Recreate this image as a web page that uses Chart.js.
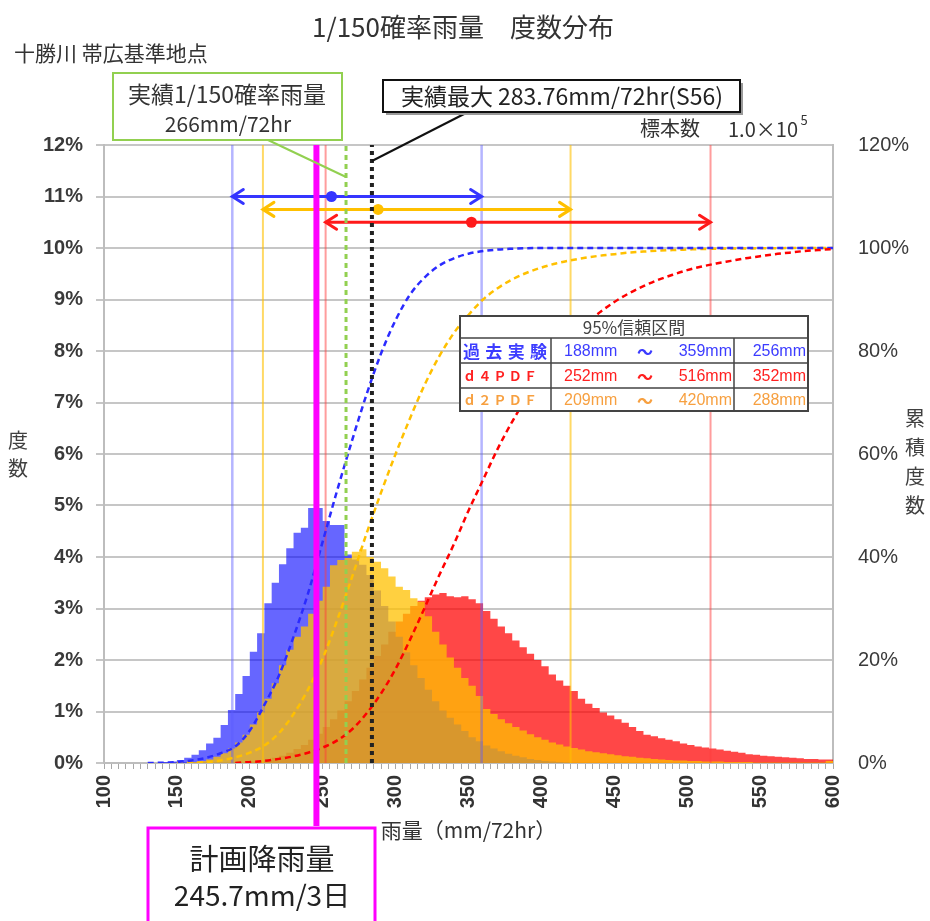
<!DOCTYPE html>
<html>
<head>
<meta charset="utf-8">
<script src="https://cdn.jsdelivr.net/npm/chart.js@4.4.0/dist/chart.umd.min.js"></script>
<style>
  html, body { margin: 0; padding: 0; background: #ffffff; }
  #wrap { width: 930px; height: 921px; }
</style>
</head>
<body>
<div id="wrap"><canvas id="chart" width="930" height="921"></canvas></div>
<script>
// ---- histogram bins (left edge of each 5 mm class, mm/72hr) ----
const binLo = [
  100,105,110,115,120,125,130,135,140,145,
  150,155,160,165,170,175,180,185,190,195,
  200,205,210,215,220,225,230,235,240,245,
  250,255,260,265,270,275,280,285,290,295,
  300,305,310,315,320,325,330,335,340,345,
  350,355,360,365,370,375,380,385,390,395,
  400,405,410,415,420,425,430,435,440,445,
  450,455,460,465,470,475,480,485,490,495,
  500,505,510,515,520,525,530,535,540,545,
  550,555,560,565,570,575,580,585,590,595
];
const binWidth = 5;

// 度数 (%) per class — 過去実験
const freqPast = [
  0,0,0,0,0,0,0,0,0.02,0.03,
  0.06,0.1,0.16,0.25,0.38,0.49,0.74,1.03,1.34,1.69,
  2.16,2.52,3.1,3.5,3.86,4.17,4.47,4.57,4.95,4.95,
  4.7,4.62,4.62,4.05,3.95,3.85,3.65,3.35,3.05,2.75,
  2.45,2.15,1.9,1.65,1.42,1.2,1.02,0.88,0.75,0.62,
  0.5,0.42,0.34,0.28,0.23,0.18,0.14,0.11,0.08,0.06,
  0.04,0.03,0.02,0.01,0,0,0,0,0,0,
  0,0,0,0,0,0,0,0,0,0,
  0,0,0,0,0,0,0,0,0,0,
  0,0,0,0,0,0,0,0,0,0
];
// 度数 (%) per class — d4PDF
const freqD4 = [
  0,0,0,0,0,0,0,0,0,0,
  0,0,0,0,0,0,0,0,0,0,
  0.03,0.05,0.07,0.1,0.14,0.2,0.27,0.35,0.45,0.57,
  0.7,0.85,1.02,1.2,1.4,1.62,1.85,2.08,2.3,2.55,
  2.75,2.9,3.05,3.15,3.22,3.27,3.3,3.24,3.22,3.24,
  3.18,3.1,2.95,2.8,2.65,2.52,2.38,2.25,2.12,2.0,
  1.88,1.72,1.6,1.5,1.4,1.25,1.15,1.07,0.98,0.92,
  0.85,0.78,0.7,0.62,0.55,0.52,0.48,0.45,0.42,0.38,
  0.35,0.32,0.3,0.28,0.26,0.24,0.22,0.2,0.17,0.16,
  0.14,0.13,0.12,0.11,0.1,0.09,0.08,0.08,0.07,0.07
];
// 度数 (%) per class — d2PDF
const freqD2 = [
  0,0,0,0,0,0,0,0,0,0,
  0,0,0.02,0.04,0.07,0.12,0.19,0.28,0.4,0.55,
  0.75,0.98,1.25,1.55,1.9,2.2,2.45,2.65,2.9,3.15,
  3.42,3.84,3.94,3.98,4.1,4.15,4.0,3.91,3.78,3.62,
  3.42,3.36,3.2,3.13,2.85,2.55,2.3,2.05,1.85,1.65,
  1.5,1.3,1.05,0.95,0.85,0.77,0.7,0.63,0.56,0.5,
  0.45,0.4,0.36,0.32,0.29,0.26,0.23,0.21,0.19,0.17,
  0.15,0.13,0.12,0.1,0.09,0.08,0.07,0.06,0.05,0.05,
  0.04,0.04,0.03,0.03,0.03,0.02,0.02,0.02,0.02,0.01,
  0.01,0.01,0.01,0.01,0.01,0.01,0.01,0.01,0.01,0.04
];

// ---- 累積度数 (%) sampled every 10 mm (null = curve not yet started) ----
const cumX = [
  100,110,120,130,140,150,160,170,180,190,
  200,210,220,230,240,250,260,270,280,290,
  300,310,320,330,340,350,360,370,380,390,
  400,410,420,430,440,450,460,470,480,490,
  500,510,520,530,540,550,560,570,580,590,
  600
];
const cumPast = [
  null,null,null,0,0.05,0.2,0.5,1.0,1.9,3.2,
  6.3,11.3,17,24.5,33,43,53,62.5,71.5,79.5,
  86,91,94.3,96.6,98,98.9,99.4,99.7,99.85,99.95,
  100,100,100,100,100,100,100,100,100,100,
  100,100,100,100,100,100,100,100,100,100,
  100
];
const cumD4 = [
  null,null,null,null,null,null,null,null,null,0,
  0.2,0.4,0.8,1.3,2.0,3.0,4.4,6.5,9.6,13.5,
  18.3,24,30.2,36.5,42.5,49,55,61,66.3,71,
  75.2,79,82.3,85.1,87.5,89.5,91.2,92.6,93.8,94.8,
  95.7,96.4,97,97.5,98,98.4,98.8,99.1,99.4,99.6,
  99.8
];
const cumD2 = [
  null,null,null,null,null,0,0.05,0.2,0.5,1.1,
  2.0,3.4,5.8,9.5,14.3,20.3,27.8,36,44.5,52.5,
  60,67,73.5,79,83.5,87,90,92.2,93.9,95.2,
  96.2,97,97.6,98.1,98.5,98.8,99.1,99.3,99.5,99.6,
  99.7,99.8,99.85,99.9,99.9,99.95,99.95,100,100,100,
  100
];

// ---- 95% 信頼区間 and central values (mm) ----
const ciPast = [188, 359];
const ciD4 = [252, 516];
const ciD2 = [209, 420];
const midPast = 256;
const midD4 = 352;
const midD2 = 288;

// ---- reference rainfall amounts (mm) ----
const obs150 = 266;      // 実績1/150確率雨量
const obsMax = 283.76;   // 実績最大 (S56)
const planRain = 245.7;  // 計画降雨量

// ---- axis ticks ----
const freqTicks = [0,1,2,3,4,5,6,7,8,9,10,11,12];
const cumTicks = [0,20,40,60,80,100,120];
const xLabelTicks = [100,150,200,250,300,350,400,450,500,550,600];

// ---------------------------------------------------------------
const JP = '"Noto Sans CJK JP", "Noto Sans", sans-serif';
const LAT = '"Liberation Sans", Arial, sans-serif';

const C_BLUE = '#3535ff';
const C_RED = '#ff1a1a';
const C_GOLD = '#ffc000';
const C_TABLE_ORANGE = '#f7a040';

function stepSeries(vals) {
  const pts = binLo.map((x, i) => ({ x: x, y: vals[i] }));
  pts.push({ x: binLo[binLo.length - 1] + binWidth, y: 0 });
  return pts;
}
function curve(vals) {
  return cumX.map((x, i) => ({ x: x, y: vals[i] })).filter(p => p.y !== null);
}
function vline(x) {
  return [{ x: x, y: freqTicks[0] }, { x: x, y: freqTicks[freqTicks.length - 1] }];
}
function histDataset(label, vals, color, order) {
  return {
    label: label, data: stepSeries(vals), stepped: 'before', fill: 'origin',
    backgroundColor: color, borderColor: 'rgba(0,0,0,0)', borderWidth: 0,
    pointRadius: 0, order: order, yAxisID: 'y'
  };
}
function refLine(x, color, width, dash, order) {
  return {
    data: vline(x), borderColor: color, borderWidth: width, borderDash: dash || [],
    pointRadius: 0, fill: false, order: order, yAxisID: 'y', borderCapStyle: 'butt'
  };
}
function cumDataset(vals, color, order) {
  return {
    data: curve(vals), yAxisID: 'y1', borderColor: color, borderWidth: 2.5,
    borderDash: [6, 4], pointRadius: 0, fill: false,
    cubicInterpolationMode: 'monotone', order: order
  };
}
function rangeArrow(ci, mid, level, color, order) {
  return {
    data: [{ x: ci[0], y: level }, { x: mid, y: level }, { x: ci[1], y: level }],
    yAxisID: 'y', borderColor: color, borderWidth: 3, fill: false,
    pointRadius: [0, 5.5, 0], pointBackgroundColor: color, pointBorderWidth: 0,
    order: order, arrowHeads: true
  };
}

const datasets = [
  histDataset('d4PDF', freqD4, 'rgba(255,0,0,0.72)', 30),
  histDataset('過去実験', freqPast, 'rgba(0,0,255,0.6)', 29),
  histDataset('d2PDF', freqD2, 'rgba(255,192,0,0.75)', 28),

  refLine(ciPast[0], 'rgba(90,90,255,0.45)', 2.5, null, 20),
  refLine(ciPast[1], 'rgba(90,90,255,0.45)', 2.5, null, 20),
  refLine(ciD2[0], 'rgba(255,192,0,0.6)', 2, null, 20),
  refLine(ciD2[1], 'rgba(255,192,0,0.6)', 2, null, 20),
  refLine(ciD4[0], 'rgba(255,60,60,0.5)', 2, null, 20),
  refLine(ciD4[1], 'rgba(255,60,60,0.5)', 2, null, 20),

  cumDataset(cumPast, '#2b2bff', 15),
  cumDataset(cumD2, C_GOLD, 16),
  cumDataset(cumD4, '#ff0000', 14),

  rangeArrow(ciPast, midPast, 11, C_BLUE, 10),
  rangeArrow(ciD2, midD2, 10.75, C_GOLD, 11),
  rangeArrow(ciD4, midD4, 10.5, C_RED, 12),

  refLine(obs150, '#92d050', 3, [5, 4], 5),
  refLine(obsMax, '#222222', 4, [4, 4], 4),
  refLine(planRain, '#ff00ff', 6, null, 3)
];

// ---- drawing helpers for annotations ----
function chevron(ctx, x, y, dir, color) {
  ctx.save();
  ctx.strokeStyle = color;
  ctx.lineWidth = 3;
  ctx.lineCap = 'round';
  ctx.lineJoin = 'miter';
  ctx.beginPath();
  ctx.moveTo(x - dir * 11, y - 7);
  ctx.lineTo(x, y);
  ctx.lineTo(x - dir * 11, y + 7);
  ctx.stroke();
  ctx.restore();
}
function spread(ctx, chars, x0, x1, y) {
  const n = chars.length;
  const wN = ctx.measureText(chars[n - 1]).width;
  const step = (x1 - wN - x0) / (n - 1);
  ctx.textAlign = 'left';
  for (let i = 0; i < n; i++) ctx.fillText(chars[i], x0 + i * step, y);
}
function text(ctx, s, x, y, font, color, align) {
  ctx.font = font;
  ctx.fillStyle = color;
  ctx.textAlign = align || 'center';
  ctx.textBaseline = 'middle';
  ctx.fillText(s, x, y);
}

const annotate = {
  id: 'annotate',
  afterDatasetsDraw(chart) {
    const ctx = chart.ctx;
    chart.data.datasets.forEach((ds, i) => {
      if (!ds.arrowHeads) return;
      const pts = chart.getDatasetMeta(i).data;
      const a = pts[0], b = pts[pts.length - 1];
      chevron(ctx, a.x, a.y, -1, ds.borderColor);
      chevron(ctx, b.x, b.y, 1, ds.borderColor);
    });
  },
  afterDraw(chart) {
    const ctx = chart.ctx;
    const xs = chart.scales.x;
    const area = chart.chartArea;
    ctx.save();

    // titles
    text(ctx, '1/150確率雨量　度数分布', 463, 27, '26px ' + JP, '#333333');
    text(ctx, '十勝川 帯広基準地点', 14, 53, '21px ' + JP, '#333333', 'left');

    // stacked axis titles
    ['度', '数'].forEach((c, k) => text(ctx, c, 18, 440 + k * 28, '20px ' + JP, '#404040'));
    ['累', '積', '度', '数'].forEach((c, k) => text(ctx, c, 915, 418 + k * 29, '20px ' + JP, '#404040'));

    // 実績1/150確率雨量 box
    const gx = xs.getPixelForValue(obs150);
    ctx.strokeStyle = '#92d050';
    ctx.lineWidth = 2;
    ctx.beginPath(); ctx.moveTo(268, 140); ctx.lineTo(gx, 177); ctx.stroke();
    ctx.fillStyle = '#ffffff';
    ctx.fillRect(113, 73, 229, 67);
    ctx.strokeRect(113, 73, 229, 67);
    text(ctx, '実績1/150確率雨量', 227, 94, '23px ' + JP, '#333333');
    text(ctx, obs150 + 'mm/72hr', 228, 124, '21px ' + JP, '#333333');

    // 実績最大 box
    const bx = xs.getPixelForValue(obsMax);
    ctx.strokeStyle = '#111111';
    ctx.lineWidth = 2;
    ctx.beginPath(); ctx.moveTo(468, 112); ctx.lineTo(bx, 161); ctx.stroke();
    ctx.fillStyle = '#9a9a9a';
    ctx.fillRect(386, 83, 357, 32);
    ctx.fillStyle = '#ffffff';
    ctx.fillRect(383, 80, 357, 32);
    ctx.strokeRect(383, 80, 357, 32);
    text(ctx, '実績最大 ' + obsMax + 'mm/72hr(S56)', 562, 96, '23px ' + JP, '#222222');

    // sample count
    text(ctx, '標本数', 670, 128, '20px ' + JP, '#333333');
    text(ctx, '1.0×10', 763, 129, '20px ' + JP, '#333333');
    text(ctx, '5', 804, 120, '13px ' + JP, '#333333');

    // 95% interval table
    const L = 460, R = 808, T = 316, B = 411;
    const rowY = [T, 338, 363, 388, B];
    const c1 = 551, c2 = 734;
    ctx.fillStyle = '#ffffff';
    ctx.fillRect(L, T, R - L, B - T);
    ctx.strokeStyle = '#444444';
    ctx.lineWidth = 2;
    ctx.strokeRect(L, T, R - L, B - T);
    ctx.lineWidth = 1.5;
    ctx.beginPath();
    for (let k = 1; k < 4; k++) { ctx.moveTo(L, rowY[k]); ctx.lineTo(R, rowY[k]); }
    ctx.moveTo(c1, rowY[1]); ctx.lineTo(c1, B);
    ctx.moveTo(c2, rowY[1]); ctx.lineTo(c2, B);
    ctx.stroke();
    text(ctx, '95%信頼区間', (L + R) / 2, (rowY[0] + rowY[1]) / 2 + 1, '17px ' + JP, '#444444');
    const rows = [
      { name: '過去実験', color: '#3c3cff', ci: ciPast, mid: midPast },
      { name: 'ｄ４ＰＤＦ', color: '#ff2020', ci: ciD4, mid: midD4 },
      { name: 'ｄ２ＰＤＦ', color: C_TABLE_ORANGE, ci: ciD2, mid: midD2 }
    ];
    rows.forEach((r, k) => {
      const y = (rowY[k + 1] + rowY[k + 2]) / 2 + 1;
      ctx.font = (k === 0 ? 'bold 17px ' : 'bold 13px ') + JP;
      ctx.fillStyle = r.color;
      ctx.textBaseline = 'middle';
      spread(ctx, Array.from(r.name), 463, k === 0 ? 547 : 537, y);
      text(ctx, r.ci[0] + 'mm', 564, y, '16px ' + LAT, r.color, 'left');
      text(ctx, '～', 645, y, 'bold 16px ' + JP, r.color);
      text(ctx, r.ci[1] + 'mm', 732, y, '16px ' + LAT, r.color, 'right');
      text(ctx, r.mid + 'mm', 806, y, '16px ' + LAT, r.color, 'right');
    });

    // 計画降雨量 box with connector
    const mx = xs.getPixelForValue(planRain);
    ctx.strokeStyle = '#ff00ff';
    ctx.lineWidth = 6;
    ctx.beginPath(); ctx.moveTo(mx, area.bottom); ctx.lineTo(mx, 826); ctx.stroke();
    ctx.fillStyle = '#ffffff';
    ctx.fillRect(148, 828, 227, 100);
    ctx.lineWidth = 3;
    ctx.strokeRect(148, 828, 227, 100);
    text(ctx, '計画降雨量', 262, 859, '29px ' + JP, '#222222');
    text(ctx, planRain + 'mm/3日', 262, 895, '28px ' + JP, '#222222');

    ctx.restore();
  }
};

new Chart(document.getElementById('chart'), {
  type: 'line',
  data: { datasets: datasets },
  plugins: [annotate],
  options: {
    responsive: false,
    animation: false,
    devicePixelRatio: 1,
    layout: { padding: { top: 145, left: 0, right: 0, bottom: 0 } },
    plugins: { legend: { display: false }, tooltip: { enabled: false } },
    scales: {
      x: {
        type: 'linear', position: 'bottom',
        min: xLabelTicks[0], max: xLabelTicks[xLabelTicks.length - 1],
        afterFit: (s) => { s.height = 158; },
        ticks: {
          stepSize: binWidth, autoSkip: false, minRotation: 90, maxRotation: 90, padding: 6,
          color: '#333333', font: { family: LAT, size: 20, weight: 'bold' },
          callback: (v) => (xLabelTicks.includes(v) ? String(v) : '')
        },
        grid: { drawOnChartArea: false, drawTicks: true, tickLength: 6, color: '#a8a8a8', lineWidth: 1 },
        border: { display: true, color: '#bdbdbd', width: 2 },
        title: {
          display: true, text: '雨量（mm/72hr）', color: '#333333',
          font: { family: JP, size: 21 }, padding: { top: 0, bottom: 78 }
        }
      },
      y: {
        position: 'left', min: freqTicks[0], max: freqTicks[freqTicks.length - 1],
        afterFit: (s) => { s.width = 104; },
        afterBuildTicks: (s) => { s.ticks = freqTicks.map(v => ({ value: v })); },
        ticks: {
          padding: 13, color: '#3a3a3a', font: { family: LAT, size: 20, weight: 'bold' },
          callback: (v) => v + '%'
        },
        grid: { color: '#c6c6c6', lineWidth: 2, drawTicks: true, tickLength: 8 },
        border: { display: true, color: '#bdbdbd', width: 2 }
      },
      y1: {
        position: 'right', min: cumTicks[0], max: cumTicks[cumTicks.length - 1],
        afterFit: (s) => { s.width = 97; },
        afterBuildTicks: (s) => { s.ticks = cumTicks.map(v => ({ value: v })); },
        ticks: {
          padding: 25, color: '#3a3a3a', font: { family: LAT, size: 20 },
          callback: (v) => v + '%'
        },
        grid: { drawOnChartArea: false, drawTicks: false },
        border: { display: true, color: '#bdbdbd', width: 2 }
      }
    }
  }
});
</script>
</body>
</html>
